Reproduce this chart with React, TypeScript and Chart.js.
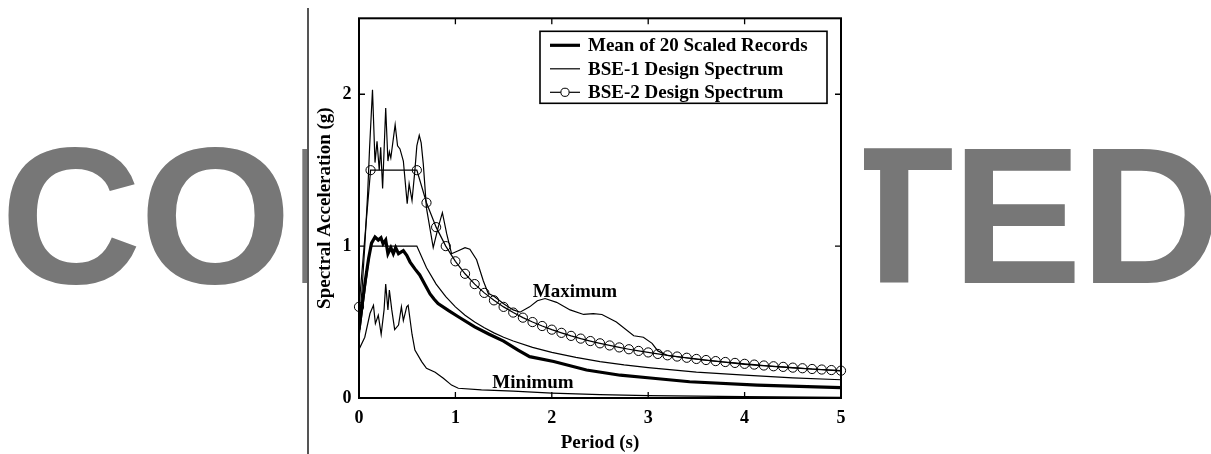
import React, { useEffect, useRef } from "react";
import { Chart, registerables } from "chart.js";

Chart.register(...registerables);

// ---------- data (period in s, spectral acceleration in g) ----------
const MEAN_T = [0, 0.03, 0.06, 0.1, 0.13, 0.166, 0.2, 0.228, 0.25, 0.277, 0.3, 0.33, 0.356, 0.38, 0.41, 0.46, 0.495, 0.53, 0.58, 0.63, 0.685, 0.737, 0.78, 0.82, 0.93, 1.03, 1.2, 1.35, 1.5, 1.65, 1.77, 2.02, 2.36, 2.71, 3.05, 3.43, 4.13, 5.0];
const MEAN_SA = [0.45, 0.6, 0.75, 0.92, 1.02, 1.06, 1.04, 1.055, 1.015, 1.04, 0.95, 0.99, 0.95, 0.99, 0.95, 0.97, 0.94, 0.895, 0.85, 0.81, 0.745, 0.685, 0.65, 0.622, 0.575, 0.535, 0.468, 0.42, 0.375, 0.315, 0.272, 0.24, 0.184, 0.15, 0.13, 0.107, 0.085, 0.068];

const BSE1_T = [0, 0.12, 0.6, 0.7, 0.8, 0.9, 1.0, 1.1, 1.2, 1.3, 1.4, 1.5, 1.6, 1.8, 2.0, 2.25, 2.5, 2.75, 3.0, 3.5, 4.0, 4.5, 5.0];
const BSE1_SA = [0.4, 1.0, 1.0, 0.857, 0.75, 0.667, 0.6, 0.545, 0.5, 0.462, 0.429, 0.4, 0.375, 0.333, 0.3, 0.267, 0.24, 0.218, 0.2, 0.171, 0.15, 0.133, 0.12];

const BSE2_T = [0, 0.12, 0.6, 0.7, 0.8, 0.9, 1.0, 1.1, 1.2, 1.3, 1.4, 1.5, 1.6, 1.7, 1.8, 1.9, 2.0, 2.1, 2.2, 2.3, 2.4, 2.5, 2.6, 2.7, 2.8, 2.9, 3.0, 3.1, 3.2, 3.3, 3.4, 3.5, 3.6, 3.7, 3.8, 3.9, 4.0, 4.1, 4.2, 4.3, 4.4, 4.5, 4.6, 4.7, 4.8, 4.9, 5.0];
const BSE2_SA = [0.6, 1.5, 1.5, 1.286, 1.125, 1.0, 0.9, 0.818, 0.75, 0.692, 0.643, 0.6, 0.5625, 0.529, 0.5, 0.474, 0.45, 0.429, 0.409, 0.391, 0.375, 0.36, 0.346, 0.333, 0.321, 0.31, 0.3, 0.29, 0.281, 0.273, 0.265, 0.257, 0.25, 0.243, 0.237, 0.231, 0.225, 0.22, 0.214, 0.209, 0.205, 0.2, 0.196, 0.191, 0.1875, 0.184, 0.18];

const MAX_T = [0, 0.03, 0.06, 0.09, 0.11, 0.14, 0.166, 0.187, 0.21, 0.225, 0.245, 0.277, 0.3, 0.315, 0.33, 0.375, 0.4, 0.425, 0.46, 0.5, 0.52, 0.55, 0.58, 0.6, 0.625, 0.645, 0.667, 0.7, 0.77, 0.82, 0.865, 0.91, 0.96, 1.03, 1.1, 1.15, 1.22, 1.29, 1.34, 1.4, 1.5, 1.6, 1.67, 1.77, 1.85, 1.93, 2.05, 2.19, 2.33, 2.43, 2.52, 2.67, 2.85, 2.95, 3.04, 3.1, 3.2, 3.5, 4.0, 4.5, 5.0];
const MAX_SA = [0.5, 0.7, 1.0, 1.35, 1.65, 2.03, 1.55, 1.69, 1.5, 1.65, 1.38, 1.91, 1.56, 1.62, 1.58, 1.8, 1.66, 1.64, 1.56, 1.28, 1.41, 1.3, 1.5, 1.66, 1.73, 1.68, 1.54, 1.25, 0.99, 1.12, 1.22, 1.08, 0.95, 0.97, 0.99, 0.98, 0.91, 0.77, 0.69, 0.67, 0.62, 0.58, 0.565, 0.6, 0.64, 0.655, 0.63, 0.58, 0.55, 0.555, 0.55, 0.5, 0.41, 0.4, 0.36, 0.31, 0.28, 0.255, 0.222, 0.198, 0.178];

const MIN_T = [0, 0.06, 0.114, 0.15, 0.17, 0.2, 0.23, 0.26, 0.277, 0.3, 0.315, 0.34, 0.37, 0.41, 0.44, 0.46, 0.495, 0.51, 0.55, 0.58, 0.65, 0.7, 0.79, 0.875, 0.96, 1.03, 1.27, 1.6, 2.0, 2.5, 3.0, 4.0, 5.0];
const MIN_SA = [0.32, 0.4, 0.556, 0.61, 0.49, 0.545, 0.42, 0.58, 0.75, 0.58, 0.71, 0.58, 0.45, 0.48, 0.6, 0.51, 0.6, 0.61, 0.42, 0.315, 0.24, 0.195, 0.17, 0.13, 0.085, 0.064, 0.053, 0.045, 0.032, 0.022, 0.015, 0.009, 0.005];

const X_TICKS = [0, 1, 2, 3, 4, 5];
const Y_TICKS = [0, 1, 2];
const LEGEND_LABELS = ["Mean of 20 Scaled Records", "BSE-1 Design Spectrum", "BSE-2 Design Spectrum"];
const ANNOTATION_TEXT = ["Maximum", "Minimum"];
const ANNOTATION_T = [2.24, 1.805];
const ANNOTATION_SA = [0.665, 0.064];
const X_TITLE = "Period (s)";
const Y_TITLE = "Spectral Acceleration (g)";
const WATERMARK = "CORRECTED";

const SERIF = '"Liberation Serif", "Times New Roman", serif';

const toPoints = (t: number[], v: number[]) => t.map((x, i) => ({ x, y: v[i] }));

const overlayPlugin = {
  id: "overlay",
  afterDatasetsDraw(chart: any) {
    const { ctx, chartArea, scales } = chart;
    const { left, right, top, bottom } = chartArea;
    const xs = scales.x;
    const ys = scales.y;
    ctx.save();
    ctx.strokeStyle = "#000";
    ctx.fillStyle = "#000";

    // inward tick marks on all four sides
    ctx.lineWidth = 1.3;
    ctx.beginPath();
    X_TICKS.forEach((v) => {
      const p = xs.getPixelForValue(v);
      ctx.moveTo(p, bottom);
      ctx.lineTo(p, bottom - 6);
      ctx.moveTo(p, top);
      ctx.lineTo(p, top + 6);
    });
    Y_TICKS.forEach((v) => {
      const p = ys.getPixelForValue(v);
      ctx.moveTo(left, p);
      ctx.lineTo(left + 6, p);
      ctx.moveTo(right, p);
      ctx.lineTo(right - 6, p);
    });
    ctx.stroke();

    // frame
    ctx.lineWidth = 2;
    ctx.strokeRect(left, top, right - left, bottom - top);

    // annotations
    ctx.font = `bold 19px ${SERIF}`;
    ctx.textAlign = "center";
    ctx.textBaseline = "alphabetic";
    ANNOTATION_TEXT.forEach((txt, i) => {
      ctx.fillText(txt, xs.getPixelForValue(ANNOTATION_T[i]), ys.getPixelForValue(ANNOTATION_SA[i]));
    });

    // legend box
    const bw = 287;
    const bh = 72;
    const bx = right - 14 - bw;
    const by = top + 13;
    ctx.fillStyle = "#fff";
    ctx.fillRect(bx, by, bw, bh);
    ctx.lineWidth = 1.6;
    ctx.strokeStyle = "#000";
    ctx.strokeRect(bx, by, bw, bh);
    ctx.fillStyle = "#000";
    ctx.textAlign = "left";
    ctx.textBaseline = "middle";
    LEGEND_LABELS.forEach((label, i) => {
      const ds = chart.data.datasets[i];
      const ry = by + 14 + i * 23.5;
      const x0 = bx + 10;
      const x1 = bx + 40;
      ctx.strokeStyle = ds.borderColor;
      ctx.lineWidth = ds.borderWidth;
      ctx.beginPath();
      ctx.moveTo(x0, ry);
      ctx.lineTo(x1, ry);
      ctx.stroke();
      if (ds.pointRadius > 0) {
        ctx.lineWidth = ds.pointBorderWidth;
        ctx.beginPath();
        ctx.arc((x0 + x1) / 2, ry, ds.pointRadius - 0.5, 0, Math.PI * 2);
        ctx.fillStyle = "#fff";
        ctx.fill();
        ctx.stroke();
        ctx.fillStyle = "#000";
      }
      ctx.fillText(label, bx + 48, ry + 1);
    });
    ctx.restore();
  },
};

export default function App() {
  const canvasRef = useRef<HTMLCanvasElement | null>(null);

  useEffect(() => {
    const canvas = canvasRef.current;
    if (!canvas) return;
    const thin = 1.2;
    const chart = new Chart(canvas, {
      type: "line",
      data: {
        datasets: [
          {
            label: LEGEND_LABELS[0],
            data: toPoints(MEAN_T, MEAN_SA),
            borderColor: "#000",
            borderWidth: 3.2,
            pointRadius: 0,
            pointBorderWidth: 0,
            fill: false,
          },
          {
            label: LEGEND_LABELS[1],
            data: toPoints(BSE1_T, BSE1_SA),
            borderColor: "#000",
            borderWidth: thin,
            pointRadius: 0,
            pointBorderWidth: 0,
            fill: false,
          },
          {
            label: LEGEND_LABELS[2],
            data: toPoints(BSE2_T, BSE2_SA),
            borderColor: "#000",
            borderWidth: thin,
            pointRadius: 4.6,
            pointBorderWidth: 1,
            pointBorderColor: "#000",
            pointBackgroundColor: "rgba(255,255,255,0)",
            clip: false,
            fill: false,
          },
          {
            label: "Maximum",
            data: toPoints(MAX_T, MAX_SA),
            borderColor: "#000",
            borderWidth: thin,
            pointRadius: 0,
            pointBorderWidth: 0,
            fill: false,
          },
          {
            label: "Minimum",
            data: toPoints(MIN_T, MIN_SA),
            borderColor: "#000",
            borderWidth: thin,
            pointRadius: 0,
            pointBorderWidth: 0,
            fill: false,
          },
        ] as any,
      },
      options: {
        animation: false,
        responsive: false,
        maintainAspectRatio: false,
        devicePixelRatio: 1,
        layout: { padding: { left: 0, right: 23, top: 17, bottom: 0 } },
        plugins: {
          legend: { display: false },
          tooltip: { enabled: false },
        },
        elements: { line: { tension: 0 } },
        scales: {
          x: {
            type: "linear",
            min: 0,
            max: 5,
            afterBuildTicks: (s: any) => {
              s.ticks = X_TICKS.map((v) => ({ value: v }));
            },
            afterFit: (s: any) => {
              s.height = 56;
            },
            grid: { display: false, drawTicks: false },
            border: { display: false },
            ticks: {
              color: "#000",
              padding: 9.5,
              maxRotation: 0,
              autoSkip: false,
              font: { family: SERIF, size: 18, weight: "bold" },
            },
            title: {
              display: true,
              text: X_TITLE,
              color: "#000",
              padding: { top: 0, bottom: 0 },
              font: { family: SERIF, size: 19, weight: "bold" },
            },
          },
          y: {
            type: "linear",
            min: 0,
            max: 2.5,
            afterBuildTicks: (s: any) => {
              s.ticks = Y_TICKS.map((v) => ({ value: v }));
            },
            afterFit: (s: any) => {
              s.width = 50;
            },
            grid: { display: false, drawTicks: false },
            border: { display: false },
            ticks: {
              color: "#000",
              padding: 7.5,
              autoSkip: false,
              font: { family: SERIF, size: 18, weight: "bold" },
            },
            title: {
              display: true,
              text: Y_TITLE,
              color: "#000",
              padding: { top: 4.6, bottom: 0 },
              font: { family: SERIF, size: 19, weight: "bold" },
            },
          },
        },
      } as any,
      plugins: [overlayPlugin],
    });
    return () => chart.destroy();
  }, []);

  return (
    <div
      style={{
        position: "fixed",
        left: 0,
        top: 0,
        width: 1211,
        height: 454,
        background: "#fff",
        overflow: "hidden",
      }}
    >
      <svg
        width={1211}
        height={454}
        style={{ position: "absolute", left: 0, top: 0 }}
      >
        <text
          x={0.5}
          y={283}
          fill="#777777"
          style={{
            fontFamily: '"Liberation Sans", Arial, sans-serif',
            fontWeight: 700,
            fontSize: "195.5px",
            letterSpacing: "-2.2px",
          }}
        >
          {WATERMARK}
        </text>
      </svg>
      <div
        style={{
          position: "absolute",
          left: 309,
          top: 0,
          width: 555,
          height: 454,
          background: "#fff",
        }}
      >
        <canvas ref={canvasRef} width={555} height={454} style={{ display: "block" }} />
      </div>
      <div
        style={{
          position: "absolute",
          left: 307,
          top: 8,
          width: 2,
          height: 446,
          background: "#555",
        }}
      />
    </div>
  );
}
